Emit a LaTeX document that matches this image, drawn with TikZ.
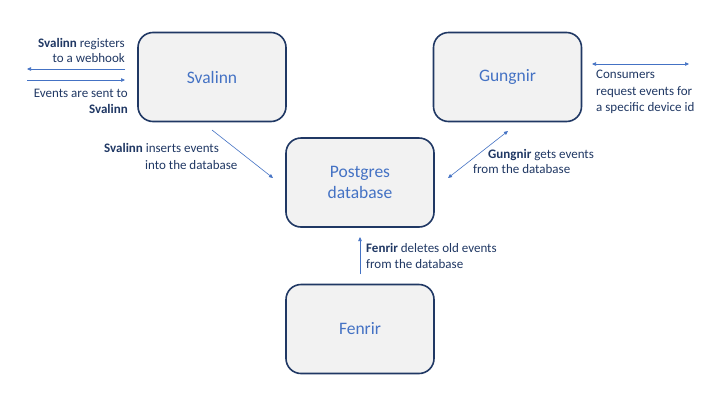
\documentclass[tikz,border=0pt]{standalone}
\usepackage{fontspec}
\setmainfont{Carlito}
\usetikzlibrary{arrows.meta}
\definecolor{navy}{HTML}{203864}
\definecolor{boxfill}{HTML}{F2F2F2}
\definecolor{lblue}{HTML}{4472C4}
\begin{document}
\begin{tikzpicture}[x=1pt,y=-1pt,
  svc/.style={draw=navy, line width=1.6pt, fill=boxfill, rounded corners=15pt,
    minimum width=148pt, minimum height=89pt, text=lblue, font=\fontsize{17.5}{20.5}\selectfont, align=center},
  note/.style={text=navy, font=\fontsize{13}{16}\selectfont, inner sep=0pt},
  conn/.style={draw=lblue, line width=0.6pt},
  tip/.style={-{Triangle[length=4pt,width=3.5pt]}},
  tips/.style={{Triangle[length=4pt,width=3.5pt]}-{Triangle[length=4pt,width=3.5pt]}}]
\useasboundingbox (0,0) rectangle (720,405);
\fill[white] (0,0) rectangle (720,405);

\node[svc] (sva) at (212,77) {Svalinn};
\node[svc] (gun) at (507.5,77) {Gungnir};
\node[svc] (pg) at (360,182.5) {Postgres\\database};
\node[svc] (fen) at (360,329) {Fenrir};

% webhook arrows
\coordinate (wA) at (125,69);
\coordinate (wB) at (27,69);
\coordinate (eA) at (27,80);
\coordinate (eB) at (125,80);
\draw[conn,tip] (wA) -- (wB);
\draw[conn,tip] (eA) -- (eB);

\node[note, anchor=base east, align=right, font=\fontsize{13}{14.5}\selectfont] (reg) at (125,62) {\textbf{Svalinn} registers\\to a webhook};
\node[note, anchor=north east, align=right] (sent) at (128,89) {Events are sent to\\\textbf{Svalinn}};

% Svalinn -> Postgres
\coordinate (s1) at (212,130);
\coordinate (s2) at (273,178);
\draw[conn,tip] (s1) -- (s2);
\node[note, anchor=north west] (ins1) at (104,143) {\textbf{Svalinn} inserts events};
\node[note, anchor=north west] (ins2) at (145,160) {into the database};

% Gungnir <-> Postgres
\coordinate (g1) at (508,131);
\coordinate (g2) at (448,178);
\draw[conn,tips] (g1) -- (g2);
\node[note, anchor=north west] (get1) at (488,149) {\textbf{Gungnir} gets events};
\node[note, anchor=north west] (get2) at (473,164) {from the database};

% Consumers
\coordinate (c1) at (592,64);
\coordinate (c2) at (689,64);
\draw[conn,tips] (c1) -- (c2);
\node[note, anchor=north west, align=left, font=\fontsize{13}{16.5}\selectfont] (cons) at (596,70) {Consumers\\request events for\\a specific device id};

% Fenrir -> Postgres
\coordinate (f1) at (360,274);
\coordinate (f2) at (360,237);
\draw[conn,tip] (f1) -- (f2);
\node[note, anchor=north west, align=left] (del) at (366,243) {\textbf{Fenrir} deletes old events\\from the database};
\end{tikzpicture}
\end{document}
